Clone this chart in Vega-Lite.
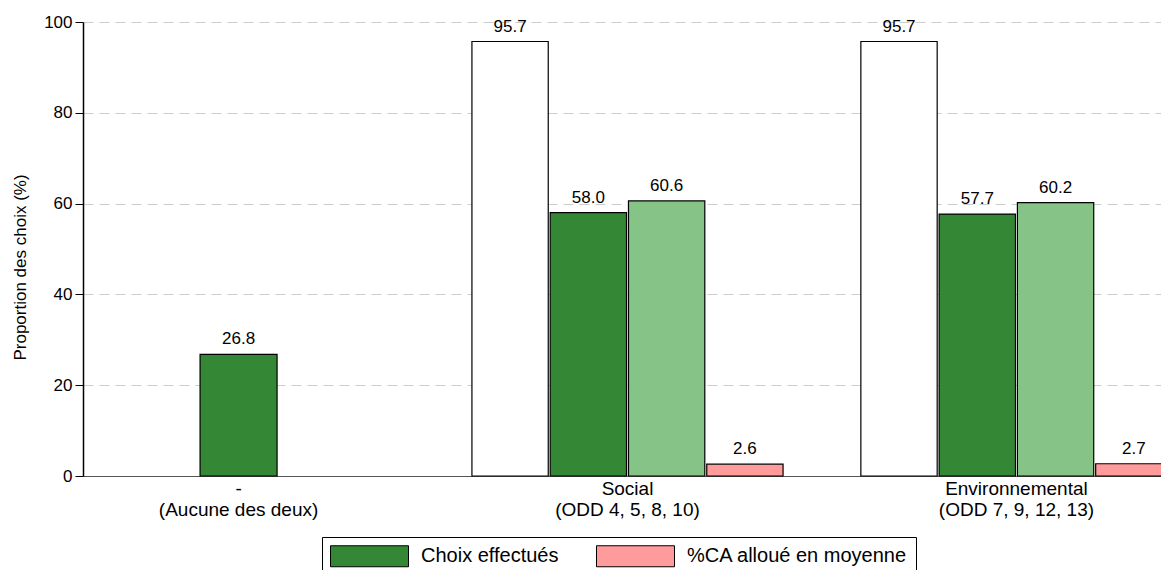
{
  "$schema": "https://vega.github.io/schema/vega-lite/v6.json",
  "width": 1078,
  "height": 454,
  "autosize": {"type": "none"},
  "padding": {"left": 83, "top": 22, "right": 0, "bottom": 94},
  "background": "white",
  "config": {
    "view": {"stroke": null},
    "font": "Liberation Sans"
  },
  "data": {
    "values": [
      {"groupe": "-|(Aucune des deux)", "serie": "Choix effectués", "valeur": 26.8, "seul": true},
      {"groupe": "Social|(ODD 4, 5, 8, 10)", "serie": "Ensemble", "valeur": 95.7, "seul": false},
      {"groupe": "Social|(ODD 4, 5, 8, 10)", "serie": "Choix effectués", "valeur": 58.0, "seul": false},
      {"groupe": "Social|(ODD 4, 5, 8, 10)", "serie": "Choix pondérés", "valeur": 60.6, "seul": false},
      {"groupe": "Social|(ODD 4, 5, 8, 10)", "serie": "%CA alloué en moyenne", "valeur": 2.6, "seul": false},
      {"groupe": "Environnemental|(ODD 7, 9, 12, 13)", "serie": "Ensemble", "valeur": 95.7, "seul": false},
      {"groupe": "Environnemental|(ODD 7, 9, 12, 13)", "serie": "Choix effectués", "valeur": 57.7, "seul": false},
      {"groupe": "Environnemental|(ODD 7, 9, 12, 13)", "serie": "Choix pondérés", "valeur": 60.2, "seul": false},
      {"groupe": "Environnemental|(ODD 7, 9, 12, 13)", "serie": "%CA alloué en moyenne", "valeur": 2.7, "seul": false}
    ]
  },
  "encoding": {
    "x": {
      "field": "groupe",
      "type": "nominal",
      "sort": null,
      "scale": {"range": [0, 1089], "paddingInner": 0.2, "paddingOuter": 0},
      "axis": {
        "title": null,
        "labelAngle": 0,
        "labelExpr": "split(datum.label, '|')",
        "labelFontSize": 19,
        "labelLineHeight": 21,
        "labelColor": "#000000",
        "labelPadding": 3,
        "ticks": false,
        "domainColor": "#555555",
        "domainWidth": 1.2,
        "labelLimit": 400
      }
    },
    "y": {
      "field": "valeur",
      "type": "quantitative",
      "scale": {"domain": [0, 100], "nice": false},
      "axis": {
        "title": "Proportion des choix (%)",
        "titleFontSize": 17,
        "titleFontWeight": "normal",
        "titleColor": "#000000",
        "titlePadding": 14,
        "titleY": 245,
        "values": [0, 20, 40, 60, 80, 100],
        "labelFontSize": 17,
        "labelColor": "#000000",
        "labelPadding": 3,
        "tickColor": "#000000",
        "tickSize": 8,
        "domainColor": "#000000",
        "domainWidth": 1.5,
        "grid": true,
        "gridColor": "#cccccc",
        "gridDash": [10, 6],
        "gridWidth": 1
      }
    },
    "color": {
      "field": "serie",
      "type": "nominal",
      "scale": {
        "domain": ["Ensemble", "Choix effectués", "Choix pondérés", "%CA alloué en moyenne"],
        "range": ["#ffffff", "#348734", "#86c387", "#ff9b9b"]
      },
      "legend": {
        "values": ["Choix effectués", "%CA alloué en moyenne"],
        "title": null,
        "orient": "none",
        "direction": "horizontal",
        "legendX": 239,
        "legendY": 515,
        "strokeColor": "#000000",
        "padding": 8,
        "symbolType": "M-1,-1H6.43V1H-1Z",
        "symbolSize": 441,
        "symbolStrokeColor": "#000000",
        "symbolStrokeWidth": 1,
        "symbolOpacity": 1,
        "labelFontSize": 20,
        "labelColor": "#000000",
        "labelOffset": 69,
        "columnPadding": 35,
        "labelLimit": 400
      }
    }
  },
  "layer": [
    {
      "transform": [{"filter": "datum.seul"}],
      "mark": {"type": "bar", "size": 77, "stroke": "#000000", "strokeWidth": 1.2}
    },
    {
      "transform": [{"filter": "!datum.seul"}],
      "mark": {"type": "bar", "stroke": "#000000", "strokeWidth": 1.2},
      "encoding": {
        "xOffset": {
          "field": "serie",
          "type": "nominal",
          "scale": {"domain": ["Ensemble", "Choix effectués", "Choix pondérés", "%CA alloué en moyenne"], "paddingInner": 0.025}
        }
      }
    },
    {
      "transform": [{"filter": "datum.seul"}],
      "mark": {"type": "text", "baseline": "bottom", "dy": -6, "fontSize": 17, "color": "#000000"},
      "encoding": {
        "text": {"field": "valeur", "type": "quantitative", "format": ".1f"},
        "color": {"value": "#000000"}
      }
    },
    {
      "transform": [{"filter": "!datum.seul"}],
      "mark": {"type": "text", "baseline": "bottom", "dy": -6, "fontSize": 17, "color": "#000000"},
      "encoding": {
        "xOffset": {
          "field": "serie",
          "type": "nominal",
          "scale": {"domain": ["Ensemble", "Choix effectués", "Choix pondérés", "%CA alloué en moyenne"], "paddingInner": 0.025}
        },
        "text": {"field": "valeur", "type": "quantitative", "format": ".1f"},
        "color": {"value": "#000000"}
      }
    }
  ]
}
